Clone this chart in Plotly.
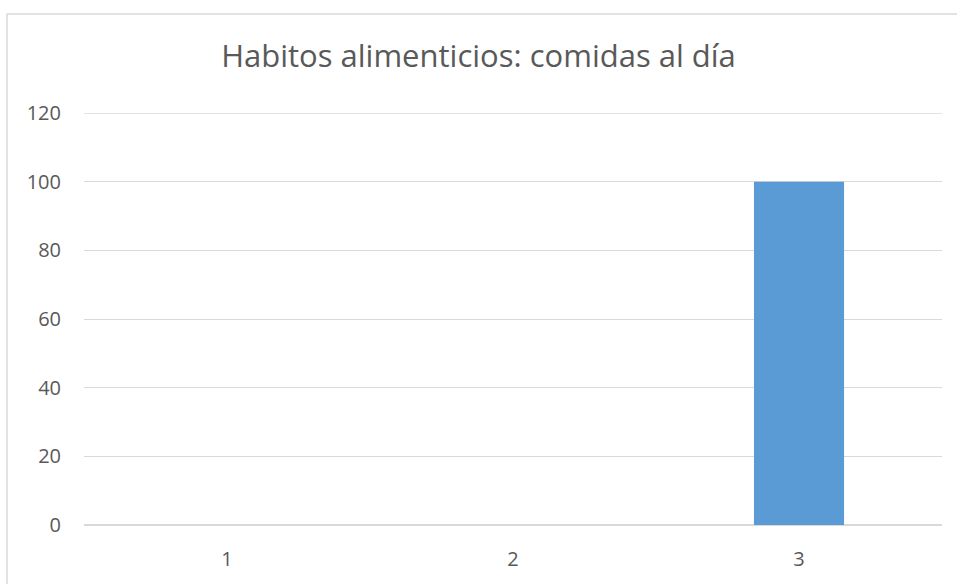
import plotly.graph_objects as go

# comidas al día
categorias = ["1", "2", "3"]
valores = [0, 0, 100]

titulo = "Habitos alimenticios: comidas al día"
y_ticks = [0, 20, 40, 60, 80, 100, 120]

fig = go.Figure()
fig.add_bar(x=categorias, y=valores, marker_color="#5B9BD5", marker_line_width=0)

fig.update_layout(
    width=957, height=584,
    margin=dict(l=84, r=15, t=113, b=55),
    paper_bgcolor="white", plot_bgcolor="white",
    font=dict(family="Open Sans, Noto Sans, sans-serif", size=20, color="#595959"),
    title=dict(text=titulo, x=0.5, xref="container", xanchor="center",
               y=1 - 56 / 584, yref="container", yanchor="middle",
               font=dict(size=31, color="#595959")),
    bargap=0.685,
    showlegend=False,
)
fig.update_xaxes(type="category", showgrid=False, showline=False, zeroline=False,
                 ticks="outside", ticklen=16, tickcolor="rgba(0,0,0,0)")
fig.update_yaxes(range=[0, 120], tickvals=y_ticks, gridcolor="#D9D9D9", gridwidth=1,
                 zeroline=True, zerolinecolor="#D9D9D9", zerolinewidth=1.5,
                 showline=False, ticks="outside", ticklen=18, tickcolor="rgba(0,0,0,0)")

# línea de cuadrícula superior (plotly no la dibuja en el borde del rango)
fig.add_hline(y=y_ticks[-1], line_color="#D9D9D9", line_width=1.5, layer="below")

# marco del gráfico (bordes izquierdo y superior visibles)
fig.add_shape(type="rect", xref="paper", yref="paper",
              x0=(7 - 84) / 858, x1=(965 - 84) / 858,
              y0=-0.2, y1=1 + (113 - 13) / 416,
              line=dict(color="#D9D9D9", width=1.5), fillcolor="rgba(0,0,0,0)", layer="below")

# quitar el margen del body para que la figura empiece en (0, 0)
fig.write_html("out.html", config={"displayModeBar": False},
               post_script="document.body.style.margin='0';")
